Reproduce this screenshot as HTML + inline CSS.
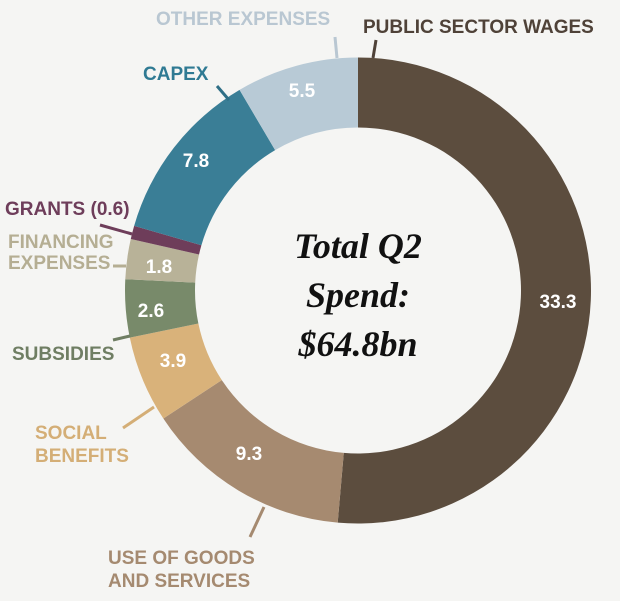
<!DOCTYPE html>
<html><head><meta charset="utf-8"><style>
html,body{margin:0;padding:0;background:#f5f5f3;}
svg{display:block;}
.l{font-family:"Liberation Sans Narrow","Liberation Sans",sans-serif;font-weight:bold;font-size:19px;}
.v{font-family:"Liberation Sans Narrow","Liberation Sans",sans-serif;font-weight:bold;font-size:19px;fill:#fff;text-anchor:middle;}
.c{font-family:"Liberation Serif",serif;font-weight:bold;font-style:italic;font-size:36px;fill:#111;text-anchor:middle;}
</style></head><body>
<svg id="s" width="620" height="601" viewBox="0 0 620 601">
<rect width="620" height="601" fill="#f5f5f3"/>
<g id="ring"></g>
<g stroke-width="3" fill="none">
<line x1="335" y1="37" x2="337" y2="58" stroke="#b9c7d2"/>
<line x1="376" y1="40" x2="373" y2="58" stroke="#4f4238"/>
<line x1="217" y1="86" x2="229" y2="100" stroke="#2f6f86"/>
<line x1="100" y1="225" x2="132" y2="234" stroke="#6e3d5a"/>
<line x1="113" y1="266" x2="126" y2="266" stroke="#b5ae93"/>
<line x1="113" y1="340" x2="130" y2="336" stroke="#6f7e63"/>
<line x1="123" y1="428" x2="154" y2="407" stroke="#d4ae76"/>
<line x1="250" y1="537" x2="264" y2="507" stroke="#a58a70"/>
</g>
<text class="l" x="156" y="25" fill="#b9c7d2">OTHER EXPENSES</text>
<text class="l" x="363" y="33" fill="#4f4238">PUBLIC SECTOR WAGES</text>
<text class="l" x="143" y="80" fill="#2f7a93">CAPEX</text>
<text class="l" x="5" y="215" fill="#6e3d5a">GRANTS (0.6)</text>
<text class="l" x="8" y="248" fill="#b5ae93">FINANCING</text>
<text class="l" x="8" y="269" fill="#b5ae93">EXPENSES</text>
<text class="l" x="12" y="360" fill="#6f7e63">SUBSIDIES</text>
<text class="l" x="35" y="439" fill="#d4ae76">SOCIAL</text>
<text class="l" x="35" y="462" fill="#d4ae76">BENEFITS</text>
<text class="l" x="108" y="564" fill="#a58a70">USE OF GOODS</text>
<text class="l" x="108" y="587" fill="#a58a70">AND SERVICES</text>
<text class="v" x="302" y="97">5.5</text>
<text class="v" x="196" y="167">7.8</text>
<text class="v" x="159" y="273">1.8</text>
<text class="v" x="151" y="317">2.6</text>
<text class="v" x="173" y="367">3.9</text>
<text class="v" x="249" y="460">9.3</text>
<text class="v" x="558" y="308">33.3</text>
<text class="c" x="358" y="258">Total Q2</text>
<text class="c" x="358" y="307">Spend:</text>
<text class="c" x="358" y="356">$64.8bn</text>
</svg>
<script>
var cx=358,cy=290.5,R=233,r=163;
var vals=[[33.3,"#5c4d3e"],[9.3,"#a68a70"],[3.9,"#d9b27a"],[2.6,"#788a6a"],[1.8,"#b8b298"],[0.6,"#6e3d5a"],[7.8,"#3a7e96"],[5.5,"#b8cad6"]];
function p(a,rad){var t=a*Math.PI/180;return [cx+rad*Math.sin(t),cy-rad*Math.cos(t)];}
var g=document.getElementById("ring"),h="",acc=0;
vals.forEach(function(v){var s0=acc/64.8*360;acc+=v[0];var s1=acc/64.8*360;
var a=p(s0,R),b=p(s1,R),c=p(s1,r),d=p(s0,r),lg=(s1-s0)>180?1:0;
h+='<path fill="'+v[1]+'" d="M'+a+' A'+R+' '+R+' 0 '+lg+' 1 '+b+' L'+c+' A'+r+' '+r+' 0 '+lg+' 0 '+d+'Z"/>';});
g.innerHTML=h;
</script>
</body></html>
